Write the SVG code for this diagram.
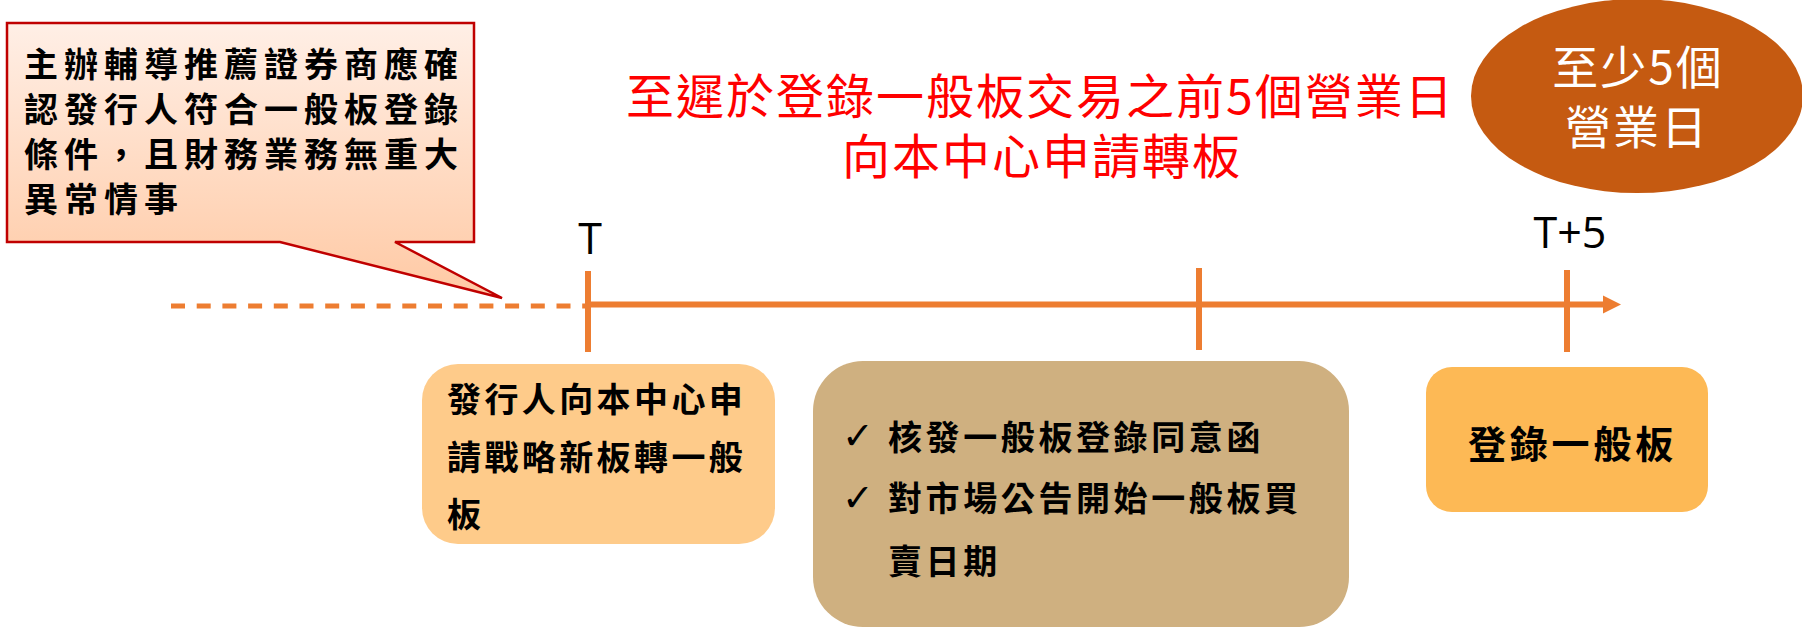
<svg xmlns="http://www.w3.org/2000/svg" width="1802" height="628" viewBox="0 0 1802 628">
<style>
.cjk{font-family:"Noto Sans CJK TC","Noto Sans CJK SC",sans-serif;}
.blk{fill:#000;font-weight:bold;font-size:34px;}
.lat{font-family:"Open Sans","Liberation Sans",sans-serif;font-size:43px;fill:#000;}
.axis{stroke:#ed7d31;stroke-width:6;fill:none;}
</style>
<defs>
<linearGradient id="cg" x1="0" y1="0" x2="0" y2="1">
<stop offset="0" stop-color="#ffefe6"/>
<stop offset="1" stop-color="#ffc9a4"/>
</linearGradient>
</defs>
<g id="connectors">
<line x1="171" y1="306" x2="588" y2="306" stroke="#ed7d31" stroke-width="5" stroke-dasharray="14 11.7"/>
<line class="axis" x1="588" y1="304.5" x2="1606" y2="304.5"/>
<polygon points="1603,295.5 1621,304.5 1603,313.5" fill="#ed7d31"/>
<line class="axis" x1="588" y1="271" x2="588" y2="352"/>
<line class="axis" x1="1199" y1="268" x2="1199" y2="350"/>
<line class="axis" x1="1567" y1="270" x2="1567" y2="352"/>
</g>
<g id="callout">
<path d="M7,23 H474 V242 H395 L502,298 L280,242 H7 Z" fill="url(#cg)" stroke="#c00000" stroke-width="2.5"/>
<text class="cjk blk" style="letter-spacing:6px"><tspan x="24" y="77">主辦輔導推薦證券商應確</tspan><tspan x="24" y="122">認發行人符合一般板登錄</tspan><tspan x="24" y="167">條件，且財務業務無重大</tspan><tspan x="24" y="212">異常情事</tspan></text>
</g>
<g id="title">
<text class="cjk" font-size="48" fill="#ff0000" style="letter-spacing:2px"><tspan x="626" y="114">至遲於登錄一般板交易之前5個營業日</tspan><tspan x="842" y="174">向本中心申請轉板</tspan></text>
</g>
<g id="badge">
<ellipse cx="1637" cy="96" rx="166" ry="97" fill="#c55a11"/>
<text class="cjk" font-size="46" fill="#ffffff" text-anchor="middle" style="letter-spacing:2px"><tspan x="1638" y="84">至少5個</tspan><tspan x="1637" y="144">營業日</tspan></text>
</g>
<g id="label-T"><text class="lat" x="590" y="254" text-anchor="middle">T</text></g>
<g id="label-T5"><text class="lat" x="1570" y="248" text-anchor="middle">T+5</text></g>
<g id="box-apply">
<rect x="422" y="364" width="353" height="180" rx="36" fill="#fecb8a"/>
<text class="cjk blk" style="letter-spacing:3.4px"><tspan x="447" y="412">發行人向本中心申</tspan><tspan x="447" y="470">請戰略新板轉一般</tspan><tspan x="447" y="527">板</tspan></text>
</g>
<g id="box-approve">
<rect x="813" y="361" width="536" height="266" rx="50" fill="#cfb080"/>
<text font-family="DejaVu Sans, sans-serif" font-size="38" fill="#000"><tspan x="842" y="449">✓</tspan><tspan x="842" y="511">✓</tspan></text>
<text class="cjk blk" style="letter-spacing:3.6px"><tspan x="888" y="450">核發一般板登錄同意函</tspan><tspan x="888" y="511">對市場公告開始一般板買</tspan><tspan x="888" y="574">賣日期</tspan></text>
</g>
<g id="box-register">
<rect x="1426" y="367" width="282" height="145" rx="26" fill="#fdb955"/>
<text class="cjk" font-size="38" font-weight="bold" fill="#000" x="1468" y="458" style="letter-spacing:3.8px">登錄一般板</text>
</g>
</svg>
